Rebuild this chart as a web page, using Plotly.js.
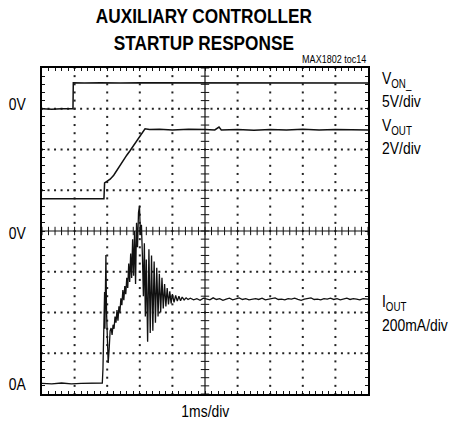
<!DOCTYPE html>
<html>
<head>
<meta charset="utf-8">
<script src="https://cdn.plot.ly/plotly-3.0.1.min.js"></script>
<style>
  html, body { margin: 0; padding: 0; background: #fff; }
  #chart { width: 452px; height: 426px; }
</style>
</head>
<body>
<div id="chart"></div>
<script>
// ---- Data (time in ms, 1 ms/div; level in screen divisions, 0..8) ----
const vonTime = [0, 0.3, 0.6, 0.95, 0.96, 1.3, 1.8, 2.4, 3.0, 3.6, 4.2, 4.8, 5.4, 6.0, 6.6, 7.2, 7.8, 8.4, 9.0, 9.6, 10];
const vonLevel = [7.00, 6.99, 7.00, 7.00, 7.64, 7.63, 7.64, 7.63, 7.64, 7.64, 7.63, 7.64, 7.63, 7.64, 7.64, 7.63, 7.64, 7.63, 7.64, 7.63, 7.63];

const voutTime = [0, 0.5, 1.0, 1.5, 1.90, 1.92, 1.98, 2.09, 2.2, 2.3, 2.4, 2.5, 2.6, 2.7, 2.8, 2.9, 3.0, 3.06, 3.12, 3.16, 3.3, 3.6, 4.0, 4.5, 5.0, 5.3, 5.43, 5.5, 6.0, 6.5, 7.0, 7.5, 8.0, 8.5, 9.0, 9.5, 10];
const voutLevel = [4.79, 4.79, 4.78, 4.79, 4.79, 5.18, 5.22, 5.27, 5.37, 5.50, 5.62, 5.73, 5.86, 5.97, 6.09, 6.20, 6.32, 6.40, 6.48, 6.51, 6.49, 6.50, 6.48, 6.50, 6.49, 6.48, 6.55, 6.48, 6.49, 6.47, 6.49, 6.48, 6.50, 6.48, 6.49, 6.48, 6.48];

const ioutTime = [0, 0.3, 0.6, 0.9, 1.2, 1.5, 1.7, 1.85,
  1.87, 1.90, 1.92, 1.93, 1.94, 1.95, 1.96, 1.98, 2.00, 2.03, 2.06, 2.09, 2.12, 2.15, 2.18, 2.21, 2.24, 2.27,
  2.30, 2.33, 2.36, 2.39, 2.42, 2.45, 2.48, 2.51, 2.54, 2.57, 2.60, 2.63, 2.66, 2.69, 2.72, 2.75, 2.78, 2.81,
  2.84, 2.87, 2.90, 2.93, 2.96, 2.99, 3.02, 3.05, 3.08, 3.11, 3.14, 3.17, 3.20, 3.24, 3.28, 3.32, 3.36, 3.40,
  3.44, 3.48, 3.52, 3.56, 3.60, 3.64, 3.68, 3.72, 3.76, 3.80, 3.84, 3.88, 3.92, 3.96, 4.00, 4.05, 4.10, 4.15,
  4.20, 4.25, 4.30, 4.36, 4.42, 4.48, 4.55, 4.65, 4.75, 4.85, 4.95, 5.05, 5.15, 5.25, 5.35, 5.45, 5.55, 5.65,
  5.75, 5.85, 5.95, 6.05, 6.15, 6.25, 6.35, 6.45, 6.55, 6.65, 6.75, 6.85, 6.95, 7.05, 7.15, 7.25, 7.35, 7.45,
  7.55, 7.65, 7.75, 7.85, 7.95, 8.05, 8.15, 8.25, 8.35, 8.45, 8.55, 8.65, 8.75, 8.85, 8.95, 9.05, 9.15, 9.25,
  9.35, 9.45, 9.55, 9.65, 9.75, 9.85, 9.95, 10];
const ioutLevel = [0.26, 0.25, 0.27, 0.25, 0.26, 0.27, 0.28, 0.27,
  0.62, 1.90, 2.50, 1.60, 2.90, 2.10, 3.41, 2.00, 1.20, 0.76, 1.10, 1.55, 1.62, 1.45, 1.70, 1.60, 1.90, 1.75,
  2.06, 1.80, 2.15, 2.00, 2.35, 2.18, 2.55, 2.30, 2.65, 2.45, 2.85, 2.60, 3.20, 2.75, 3.45, 2.85, 3.80, 2.90,
  4.00, 2.70, 4.20, 3.60, 4.45, 4.62, 3.90, 4.15, 3.40, 2.40, 3.70, 1.90, 3.30, 1.28, 3.55, 1.50, 3.40, 1.55,
  3.25, 1.75, 3.10, 1.90, 2.95, 2.00, 2.85, 2.10, 2.70, 2.15, 2.60, 2.20, 2.52, 2.22, 2.45, 2.25, 2.42, 2.28,
  2.40, 2.29, 2.38, 2.31, 2.36, 2.32, 2.35, 2.31, 2.34, 2.30, 2.35, 2.33, 2.31, 2.36, 2.32, 2.34, 2.30, 2.33,
  2.35, 2.31, 2.33, 2.36, 2.32, 2.34, 2.31, 2.33, 2.34, 2.32, 2.35, 2.31, 2.33, 2.34, 2.36, 2.32, 2.33, 2.31,
  2.34, 2.33, 2.35, 2.32, 2.30, 2.33, 2.34, 2.36, 2.32, 2.33, 2.31, 2.34, 2.33, 2.35, 2.32, 2.34, 2.31, 2.33,
  2.35, 2.32, 2.34, 2.33, 2.31, 2.34, 2.33, 2.33];

const titleText = "AUXILIARY CONTROLLER<br>STARTUP RESPONSE";
const noteText = "MAX1802 toc14";
const xLabel = "1ms/div";
const leftLabels = ["0V", "0V", "0A"];
const rightLabels = ["V<sub>ON_</sub>", "5V/div", "V<sub>OUT</sub>", "2V/div", "I<sub>OUT</sub>", "200mA/div"];

// ---- Screen graticule (10 x 8 divisions, 5 subdivisions each) ----
const nX = 10, nY = 8, sub = 5;
const dotX = [], dotY = [];
for (let gy = 1; gy < nY; gy++) {
  if (gy === nY / 2) continue;
  for (let k = 0; k <= nX * sub; k++) { dotX.push(k / sub); dotY.push(gy); }
}
for (let gx = 1; gx < nX; gx++) {
  if (gx === nX / 2) continue;
  for (let k = 0; k <= nY * sub; k++) { dotX.push(gx); dotY.push(k / sub); }
}
const tickHX = [], tickHY = [], tickVX = [], tickVY = [];
for (let k = 0; k <= nX * sub; k++) { tickHX.push(k / sub); tickHY.push(nY / 2); }
for (let k = 0; k <= nY * sub; k++) { tickVX.push(nX / 2); tickVY.push(k / sub); }

const FONT = "'Liberation Sans', Arial, Helvetica, sans-serif";
const NARROW = 0.82; // horizontal squeeze to mimic Helvetica Narrow
const ink = "#111";

const traces = [
  { x: dotX, y: dotY, type: "scatter", mode: "markers", hoverinfo: "skip",
    marker: { symbol: "square", size: 2, color: "#222" } },
  { x: tickHX, y: tickHY, type: "scatter", mode: "markers", hoverinfo: "skip",
    marker: { symbol: "line-ns", size: 6, line: { width: 1, color: ink } } },
  { x: tickVX, y: tickVY, type: "scatter", mode: "markers", hoverinfo: "skip",
    marker: { symbol: "line-ew", size: 6, line: { width: 1, color: ink } } },
  { x: vonTime, y: vonLevel, type: "scatter", mode: "lines", line: { color: ink, width: 1.5 } },
  { x: voutTime, y: voutLevel, type: "scatter", mode: "lines", line: { color: ink, width: 1.5 } },
  { x: ioutTime, y: ioutLevel, type: "scatter", mode: "lines", line: { color: ink, width: 1.3 } }
];

// pixel helpers for annotation placement (plot area 42..368 x 68..394)
const L = 42, T = 68, W = 326, H = 326;
const px = (x) => (x - L) / W;
const py = (y) => (T + H - y) / H;

const ann = [];
ann.push({ text: "<b>" + titleText + "</b>", x: px(204), y: py(29), xref: "paper", yref: "paper",
  xanchor: "center", yanchor: "middle", showarrow: false, font: { family: FONT, size: 21, color: "#000" } });
ann.push({ text: noteText, x: px(368), y: py(59), xref: "paper", yref: "paper",
  xanchor: "right", yanchor: "middle", showarrow: false, font: { family: FONT, size: 11, color: "#000" } });
ann.push({ text: xLabel, x: px(205), y: py(412), xref: "paper", yref: "paper",
  xanchor: "center", yanchor: "middle", showarrow: false, font: { family: FONT, size: 17, color: "#000" } });
const leftY = [104, 233, 384];
leftLabels.forEach((t, i) => ann.push({ text: t, x: px(28), y: py(leftY[i]), xref: "paper", yref: "paper",
  xanchor: "right", yanchor: "middle", showarrow: false, font: { family: FONT, size: 17, color: "#000" } }));
const rightY = [80, 101, 127, 148, 303, 325];
rightLabels.forEach((t, i) => ann.push({ text: t, x: px(380), y: py(rightY[i]), xref: "paper", yref: "paper",
  xanchor: "left", yanchor: "middle", showarrow: false, font: { family: FONT, size: 17, color: "#000" } }));

const layout = {
  width: 452, height: 426,
  margin: { l: L, r: 452 - L - W, t: T, b: 426 - T - H, pad: 0 },
  paper_bgcolor: "#fff", plot_bgcolor: "#fff",
  showlegend: false,
  xaxis: { range: [0, nX], showgrid: false, zeroline: false, showticklabels: false,
    ticks: "inside", tick0: 0, dtick: 1 / sub, ticklen: 3, tickwidth: 1, tickcolor: ink,
    showline: true, linecolor: "#000", linewidth: 2, mirror: "allticks", fixedrange: true },
  yaxis: { range: [0, nY], showgrid: false, zeroline: false, showticklabels: false,
    ticks: "inside", tick0: 0, dtick: 1 / sub, ticklen: 3, tickwidth: 1, tickcolor: ink,
    showline: true, linecolor: "#000", linewidth: 2, mirror: "allticks", fixedrange: true },
  shapes: [
    { type: "line", xref: "x", yref: "y", x0: 0, x1: nX, y0: nY / 2, y1: nY / 2, line: { color: ink, width: 1.2 } },
    { type: "line", xref: "x", yref: "y", x0: nX / 2, x1: nX / 2, y0: 0, y1: nY, line: { color: ink, width: 1.2 } }
  ],
  annotations: ann
};

Plotly.newPlot("chart", traces, layout, { staticPlot: true, displayModeBar: false }).then((gd) => {
  // squeeze annotation text horizontally around its anchor (narrow typeface look)
  gd.querySelectorAll("g.annotation").forEach((g) => {
    const idx = +g.getAttribute("data-index");
    const t = g.querySelector("text.annotation-text");
    if (!t || !ann[idx]) return;
    const bb = t.getBBox();
    const xa = ann[idx].xanchor;
    const ax = xa === "left" ? bb.x : (xa === "right" ? bb.x + bb.width : bb.x + bb.width / 2);
    t.setAttribute("transform", `translate(${ax},0) scale(${NARROW},1) translate(${-ax},0)`);
  });
});
</script>
</body>
</html>
